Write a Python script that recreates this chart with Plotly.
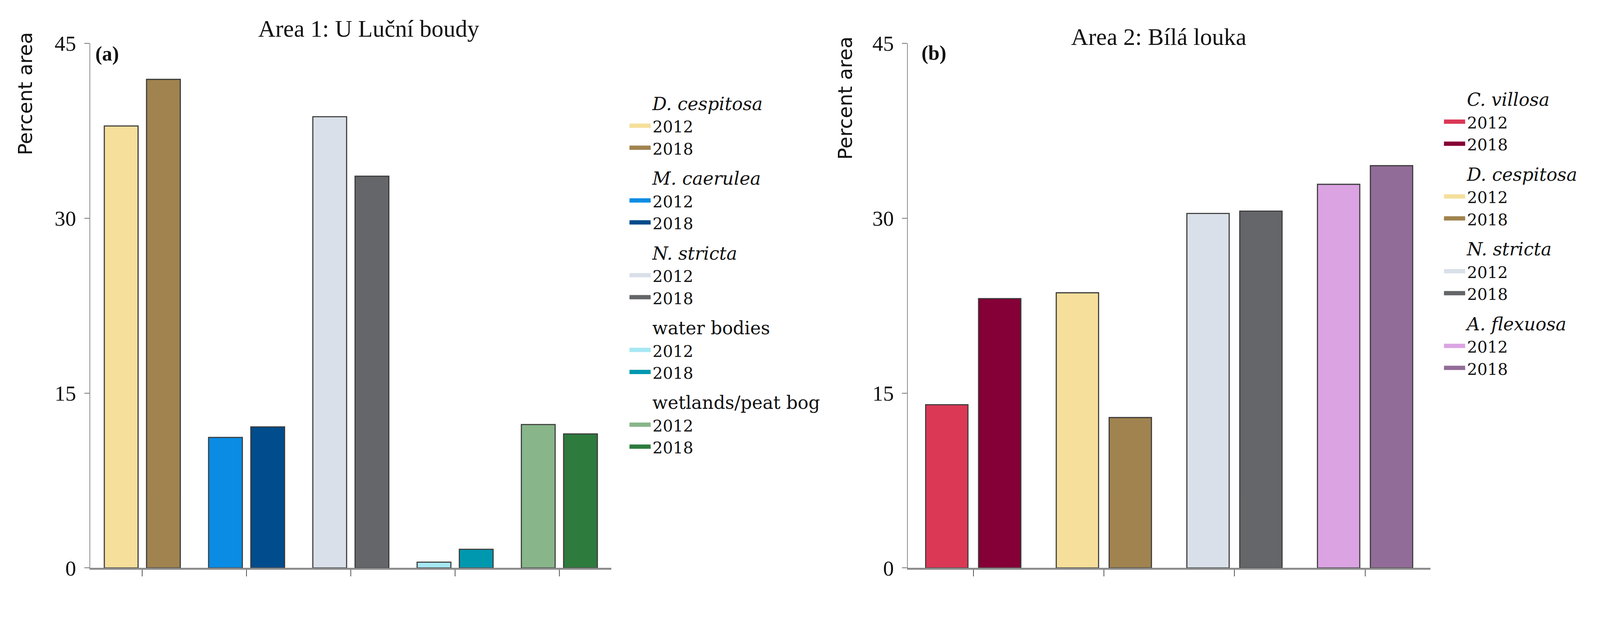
import plotly.graph_objects as go

# ---------------- data ----------------
years = ["2012", "2018"]
y_ticks = [0, 15, 30, 45]

area1_title = "Area 1: U Luční boudy"
area1_categories = ["D. cespitosa", "M. caerulea", "N. stricta", "water bodies", "wetlands/peat bog"]
area1_italic = [True, True, True, False, False]
area1_2012 = [37.9, 11.2, 38.7, 0.5, 12.3]
area1_2018 = [41.9, 12.1, 33.6, 1.6, 11.5]
area1_colors_2012 = ["#F5DF9B", "#0A8CE4", "#D9E0E9", "#A6E8F3", "#88B68A"]
area1_colors_2018 = ["#A0834F", "#004C8C", "#646669", "#0098AF", "#2E7B3E"]

area2_title = "Area 2: Bílá louka"
area2_categories = ["C. villosa", "D. cespitosa", "N. stricta", "A. flexuosa"]
area2_italic = [True, True, True, True]
area2_2012 = [14.0, 23.6, 30.4, 32.9]
area2_2018 = [23.1, 12.9, 30.6, 34.5]
area2_colors_2012 = ["#DB3856", "#F5DF9B", "#D9E0E9", "#DBA3E2"]
area2_colors_2018 = ["#850036", "#A0834F", "#646669", "#926C98"]

# ---------------- page geometry ----------------
W, H = 4090, 1515


def fx(x_ref):
    """horizontal position (reference pixels) -> paper fraction"""
    return (0.9346 * x_ref - 8) / W


def fy(y_ref):
    """vertical position (reference pixels from top) -> paper fraction"""
    return 1 - (0.9771 * y_ref - 42.5) / H


SERIF = "Liberation Serif"
DSERIF = "DejaVu Serif"
SANS = "DejaVu Sans"
EDGE = "#3A3A3A"
AXIS_GRAY = "#8C8C8C"

fig = go.Figure()


def add_panel(cats, italic, v12, v18, c12, c18, xref, yref, legend_name, group_prefix):
    for vals, cols, yr in ((v12, c12, years[0]), (v18, c18, years[1])):
        fig.add_trace(go.Bar(
            x=cats, y=vals, name=yr, offsetgroup=yr,
            marker=dict(color=cols, line=dict(color=EDGE, width=2.8)),
            xaxis=xref, yaxis=yref, showlegend=False, hoverinfo="x+y",
        ))
    # legend entries drawn as flat colour swatches
    for i, cat in enumerate(cats):
        for cols, yr in ((c12, years[0]), (c18, years[1])):
            fig.add_trace(go.Scatter(
                x=[None], y=[None], mode="lines", fill="toself",
                fillcolor=cols[i],
                line=dict(color=cols[i], width=10),
                name=yr, legendgroup=f"{group_prefix}{i}",
                legendgrouptitle=dict(
                    text="\u00a0" * 4 + cat,
                    font=dict(family=DSERIF, size=46, color="#111",
                              style="italic" if italic[i] else "normal"),
                ),
                legend=legend_name, xaxis=xref, yaxis=yref, hoverinfo="skip",
            ))


add_panel(area1_categories, area1_italic, area1_2012, area1_2018,
          area1_colors_2012, area1_colors_2018, "x", "y", "legend", "a")
add_panel(area2_categories, area2_italic, area2_2012, area2_2018,
          area2_colors_2012, area2_colors_2018, "x2", "y2", "legend2", "b")

y_dom = [fy(1554), fy(121)]
xaxis_common = dict(
    showline=True, linecolor=AXIS_GRAY, linewidth=4.6,
    ticks="outside", ticklen=17, tickwidth=2.4, tickcolor="#555",
    showticklabels=False, showgrid=False, zeroline=False, fixedrange=True,
)
yaxis_common = dict(
    range=[0, 45], tickvals=y_ticks, ticktext=[str(v) for v in y_ticks],
    showline=True, linecolor=AXIS_GRAY, linewidth=2.4,
    ticks="outside", ticklen=13, tickwidth=2.4, tickcolor="#777",
    ticklabelstandoff=10,
    tickfont=dict(family=SERIF, size=55, color="#111"),
    showgrid=False, zeroline=False, fixedrange=True, domain=y_dom,
)

legend_common = dict(
    xanchor="left", yanchor="top", traceorder="grouped",
    tracegroupgap=16, itemwidth=54, bgcolor="rgba(0,0,0,0)",
    font=dict(family=DSERIF, size=41, color="#111"),
    itemclick=False, itemdoubleclick=False,
)

fig.update_layout(
    width=W, height=H,
    margin=dict(l=0, r=0, t=0, b=0),
    paper_bgcolor="white", plot_bgcolor="white",
    barmode="group", bargap=0.19, bargroupgap=0.2,
    xaxis=dict(domain=[fx(247), fx(1675)], range=[-0.5, 4.5], anchor="y", **xaxis_common),
    yaxis=dict(anchor="x", **yaxis_common),
    xaxis2=dict(domain=[fx(2487), fx(3918)], range=[-0.5, 3.5], anchor="y2", **xaxis_common),
    yaxis2=dict(anchor="x2", **yaxis_common),
    legend=dict(x=fx(1719), y=0.8697, **legend_common),
    legend2=dict(x=fx(3950), y=0.8768, **legend_common),
    showlegend=True,
)

annotations = [
    dict(text=area1_title, x=fx(1010), y=fy(81.5),
         font=dict(family=SERIF, size=61, color="#111")),
    dict(text=area2_title, x=fx(3174), y=fy(104),
         font=dict(family=SERIF, size=61, color="#111")),
    dict(text="<b>(a)</b>", x=fx(259), y=fy(150), xanchor="left",
         font=dict(family=SERIF, size=52, color="#111")),
    dict(text="<b>(b)</b>", x=fx(2522), y=fy(148), xanchor="left",
         font=dict(family=SERIF, size=52, color="#111")),
    dict(text="Percent area", x=fx(70), y=fy(258), textangle=-90,
         font=dict(family=SANS, size=50, color="#111")),
    dict(text="Percent area", x=fx(2316), y=fy(271), textangle=-90,
         font=dict(family=SANS, size=50, color="#111")),
]
for a in annotations:
    a.setdefault("xanchor", "center")
    a.setdefault("yanchor", "middle")
    fig.add_annotation(xref="paper", yref="paper", showarrow=False, **a)

fig.write_html("out.html")
